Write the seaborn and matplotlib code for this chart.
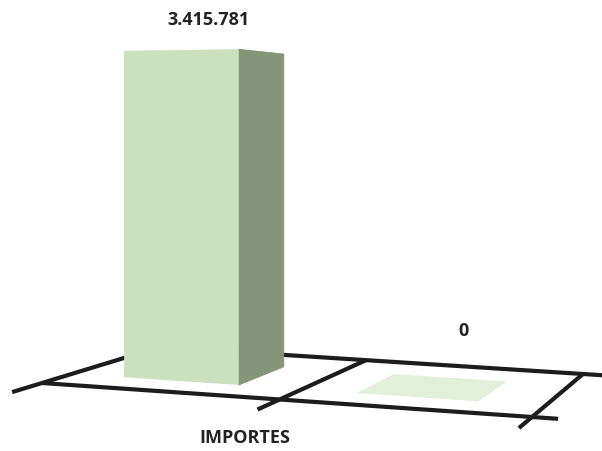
import numpy as np
import matplotlib
matplotlib.use("Agg")
import matplotlib.pyplot as plt
import matplotlib.transforms as mtransforms
from matplotlib.patches import Polygon
import seaborn as sns

# Data
categorias = ["Importes", "Otros"]
valores = [3415781, 0]
titulo_eje = "IMPORTES"

# Colours
COLOR_FRENTE = "#cbe0bc"
COLOR_LADO = "#84957a"
COLOR_TAPA = "#e2efda"
COLOR_LINEA = "#1c1c1c"
COLOR_TEXTO = "#222222"

# Perspective layout: floor (category X, depth Z) -> pixels, and vertical scale
BORDES = np.arange(len(categorias) + 1) - 0.48
PROF_BARRA = (0.23, 0.70)
ESQUINAS_PX = [(42, 383), (532, 417), (160, 347), (583, 374)]
ESCALA_VERT = (100.2, 5.5, -14.3)   # px per million, varies with X and Z
DESPLAZ_ETIQ = [(2, 32), (29, 56)]  # label offsets in pixels


def homografia(src, dst):
    filas, rhs = [], []
    for (x, z), (u, v) in zip(src, dst):
        filas.append([x, z, 1, 0, 0, 0, -u * x, -u * z])
        rhs.append(u)
        filas.append([0, 0, 0, x, z, 1, -v * x, -v * z])
        rhs.append(v)
    h = np.linalg.solve(np.array(filas, float), np.array(rhs, float))
    return np.append(h, 1).reshape(3, 3)


H = homografia([(BORDES[0], 0), (BORDES[-1], 0), (BORDES[0], 1), (BORDES[-1], 1)],
               ESQUINAS_PX)


def proyectar(X, Y, Z):
    p = np.column_stack([X, Z, np.ones_like(X)]) @ H.T
    px = p[:, 0] / p[:, 2]
    py = p[:, 1] / p[:, 2]
    a, b, c = ESCALA_VERT
    escala = (a + b * X + c * Z) * 1e-6
    return np.column_stack([px, py - Y * escala])


class Plano(mtransforms.Transform):
    """Maps 2D coords lying on a plane of the 3D scene to pixel coords."""
    input_dims = 2
    output_dims = 2
    is_separable = False
    has_inverse = False

    def __init__(self, fijo, nivel):
        super().__init__()
        self.fijo = fijo
        self.nivel = nivel

    def transform_non_affine(self, values):
        v = np.asarray(values, float).reshape(-1, 2)
        a, b = v[:, 0], v[:, 1]
        c = np.full_like(a, self.nivel)
        if self.fijo == "z":      # front faces: (X, Y)
            return proyectar(a, b, c)
        if self.fijo == "x":      # side faces: (Z, Y)
            return proyectar(c, b, a)
        return proyectar(a, c, b)  # floor / tops: (X, Z)


sns.set_theme(style="white")
plt.rcParams['font.family'] = ['Open Sans', 'DejaVu Sans']

fig, ax = plt.subplots(figsize=(6.02, 4.51), dpi=100)
ax.set_position([0, 0, 1, 1])

sns.barplot(x=categorias, y=valores, width=0.5, color=COLOR_FRENTE,
            saturation=1, errorbar=None, linewidth=0, ax=ax)
barras = list(ax.patches)

ax.set_xlim(0, 602)
ax.set_ylim(451, 0)
ax.axis("off")

# Floor
t_piso = Plano("y", 0) + ax.transData
x_fin = BORDES[-1] + 0.1
for z in (0, 1):
    ax.plot([BORDES[0], x_fin], [z, z], transform=t_piso, color=COLOR_LINEA,
            lw=3.0, solid_capstyle="butt", zorder=1)
for xb in BORDES:
    ax.plot([xb, xb], [-0.21, 1], transform=t_piso, color=COLOR_LINEA,
            lw=3.0, solid_capstyle="butt", zorder=1)

# Bars: top, side, then the seaborn front face on top
z0, z1 = PROF_BARRA
for p in barras:
    x0, w, h = p.get_x(), p.get_width(), p.get_height()
    ax.add_patch(Polygon([(x0, z0), (x0 + w, z0), (x0 + w, z1), (x0, z1)],
                         transform=Plano("y", h) + ax.transData,
                         facecolor=COLOR_TAPA, lw=0, zorder=3))
    if h > 0:
        ax.add_patch(Polygon([(z0, 0), (z1, 0), (z1, h), (z0, h)],
                             transform=Plano("x", x0 + w) + ax.transData,
                             facecolor=COLOR_LADO, edgecolor=COLOR_LADO,
                             lw=0.6, zorder=3))
    p.set_transform(Plano("z", z0) + ax.transData)
    p.set_zorder(4)

# Value labels
for p, v, (dx, dy) in zip(barras, valores, DESPLAZ_ETIQ):
    xc = p.get_x() + p.get_width() / 2
    ax.annotate(f"{v:,}".replace(",", "."), xy=(xc, (z0 + z1) / 2),
                xycoords=Plano("y", p.get_height()) + ax.transData,
                xytext=(dx, dy), textcoords="offset pixels",
                ha="center", va="center", fontsize=13, fontweight="bold",
                color=COLOR_TEXTO)

ax.text(245, 438, titulo_eje, ha="center", va="center", fontsize=13,
        fontweight="bold", color=COLOR_TEXTO)

fig.savefig("out.png", dpi=100)
